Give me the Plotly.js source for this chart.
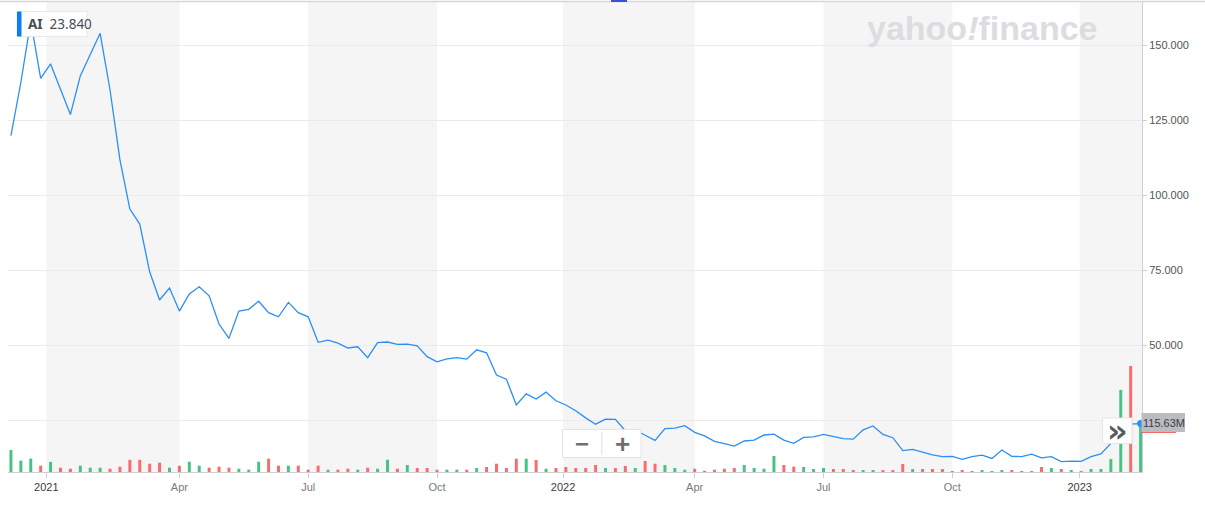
<!DOCTYPE html>
<html>
<head>
<meta charset="utf-8">
<script src="https://cdn.plot.ly/plotly-3.0.1.min.js"></script>
<style>
  html, body { margin: 0; padding: 0; background: #ffffff; }
  #chart { width: 1205px; height: 508px; }
</style>
</head>
<body>
<div id="chart"></div>
<script>
// ---------------- DATA ----------------
const ticker = 'AI';

const weekDates = [
  '2020-12-07','2020-12-14','2020-12-21','2020-12-28',
  '2021-01-04','2021-01-11','2021-01-18','2021-01-25','2021-02-01','2021-02-08','2021-02-15','2021-02-22',
  '2021-03-01','2021-03-08','2021-03-15','2021-03-22','2021-03-29','2021-04-05','2021-04-12','2021-04-19',
  '2021-04-26','2021-05-03','2021-05-10','2021-05-17','2021-05-24','2021-05-31','2021-06-07','2021-06-14',
  '2021-06-21','2021-06-28','2021-07-05','2021-07-12','2021-07-19','2021-07-26','2021-08-02','2021-08-09',
  '2021-08-16','2021-08-23','2021-08-30','2021-09-06','2021-09-13','2021-09-20','2021-09-27','2021-10-04',
  '2021-10-11','2021-10-18','2021-10-25','2021-11-01','2021-11-08','2021-11-15','2021-11-22','2021-11-29',
  '2021-12-06','2021-12-13','2021-12-20','2021-12-27',
  '2022-01-03','2022-01-10','2022-01-17','2022-01-24','2022-01-31','2022-02-07','2022-02-14','2022-02-21',
  '2022-02-28','2022-03-07','2022-03-14','2022-03-21','2022-03-28','2022-04-04','2022-04-11','2022-04-18',
  '2022-04-25','2022-05-02','2022-05-09','2022-05-16','2022-05-23','2022-05-30','2022-06-06','2022-06-13',
  '2022-06-20','2022-06-27','2022-07-04','2022-07-11','2022-07-18','2022-07-25','2022-08-01','2022-08-08',
  '2022-08-15','2022-08-22','2022-08-29','2022-09-05','2022-09-12','2022-09-19','2022-09-26','2022-10-03',
  '2022-10-10','2022-10-17','2022-10-24','2022-10-31','2022-11-07','2022-11-14','2022-11-21','2022-11-28',
  '2022-12-05','2022-12-12','2022-12-19','2022-12-26',
  '2023-01-02','2023-01-09','2023-01-16','2023-01-23','2023-01-30','2023-02-06','2023-02-13'
];

const closePrice = [
  119.8, 137.5, 158.0, 138.9, 143.7, 135.0, 126.8, 139.7, 146.8, 153.9,
  135.0, 111.7, 95.3, 90.3, 74.4, 65.0, 69.0, 61.3, 67.0, 69.4,
  66.4, 57.0, 52.2, 61.3, 61.9, 64.6, 60.8, 59.4, 64.2, 60.8,
  59.4, 50.9, 51.6, 50.6, 49.0, 49.4, 45.8, 50.8, 51.0, 50.2,
  50.3, 49.7, 46.1, 44.4, 45.4, 45.8, 45.3, 48.4, 47.4, 40.0,
  38.6, 30.0, 33.7, 32.0, 34.3, 31.4, 30.0, 28.1, 25.7, 23.6,
  25.3, 25.2, 21.4, 21.7, 19.9, 18.2, 22.1, 22.3, 23.1, 20.9,
  19.7, 17.9, 17.1, 16.3, 18.0, 18.3, 20.0, 20.3, 18.3, 17.2,
  19.2, 19.4, 20.2, 19.4, 18.8, 18.6, 21.7, 23.0, 20.2, 19.1,
  14.8, 15.2, 14.3, 13.4, 12.8, 12.9, 11.9, 12.8, 13.3, 12.2,
  15.0, 12.9, 12.8, 13.6, 12.4, 12.8, 11.1, 11.3, 11.2, 12.8,
  13.7, 17.2, 25.0, 23.6, 23.84
];

// weekly volume, millions of shares
const volumeMillions = [
  54, 28, 33, 15.5, 25, 10.6, 8.1, 15.5, 10.6, 10.6,
  8.1, 13, 30, 30, 20.4, 22.9, 10.6, 15.5, 25.3, 15.5,
  10.6, 13, 10.6, 8.1, 5.7, 25.3, 32.7, 15.5, 15.5, 15.5,
  5.7, 15.5, 5.7, 5.7, 8.1, 5.7, 10.6, 8.1, 30.3, 8.1,
  17.2, 9.8, 9.8, 5.7, 5.7, 5.7, 5.7, 9.8, 12.3, 20.4,
  9.8, 32.7, 32.7, 29.5, 8.1, 9.8, 12.3, 9.8, 9.8, 17.2,
  9.8, 9.8, 14.8, 9.8, 27, 20.4, 17.2, 9.8, 5.7, 8.1,
  3.2, 5.7, 8.1, 9.8, 17.2, 9.8, 8.1, 39.4, 17.2, 13,
  12.3, 7.4, 9.8, 7.4, 7.4, 4.9, 4.9, 4.9, 4.9, 4.9,
  19.7, 7.4, 7.4, 7.4, 7.4, 2.5, 4.9, 2.5, 4.9, 2.5,
  4.9, 4.9, 2.5, 2.5, 12.3, 9.8, 7.4, 4.9, 2.5, 7.4,
  7.4, 32, 202, 261, 115.63
];

const xTickVals = ['2021-01-01','2021-04-05','2021-07-05','2021-10-04','2022-01-01','2022-04-04','2022-07-04','2022-10-03','2023-01-01'];
const xTickLabels = ['2021','Apr','Jul','Oct','2022','Apr','Jul','Oct','2023'];
const yTickVals = [25, 50, 75, 100, 125, 150];
const yTickLabels = ['', '50.000', '75.000', '100.000', '125.000', '150.000'];

// ---------------- STYLE / LAYOUT ----------------
const W = 1205, H = 508;
const PL = 8, PR = 1142, PT = 2, PB = 472;
const fx = px => (px - PL) / (PR - PL);
const fy = py => (PB - py) / (PB - PT);

const UP = '#46c383', DOWN = '#fb6b6d', LINE = '#2b8ff4';
const barColors = closePrice.map((p, i) => (i === 0 || p >= closePrice[i - 1]) ? UP : DOWN);

const DAY = 86400000;
const t0 = new Date(weekDates[0] + 'T00:00:00Z').getTime();
const t1 = new Date(weekDates[weekDates.length - 1] + 'T00:00:00Z').getTime();
const iso = t => new Date(t).toISOString().slice(0, 19).replace('T', ' ');
const xRange = [iso(t0 - 2.08 * DAY), iso(t1 + 1 * DAY)];

const isYear = s => /^\d{4}$/.test(s);
const xTickText = xTickLabels.map(s => isYear(s) ? '<span style="color:#3a3a3a">' + s + '</span>' : s);

const lastIdx = closePrice.length - 1;

const traces = [
  {
    type: 'bar', x: weekDates, y: volumeMillions, yaxis: 'y',
    marker: { color: barColors, line: { width: 0 } },
    hoverinfo: 'skip', showlegend: false
  },
  {
    type: 'scatter', mode: 'lines', x: weekDates, y: closePrice, yaxis: 'y2',
    line: { color: LINE, width: 1.3 },
    hoverinfo: 'skip', showlegend: false
  },
  {
    type: 'scatter', mode: 'markers', x: [weekDates[lastIdx]], y: [closePrice[lastIdx]], yaxis: 'y2',
    marker: { color: LINE, size: 7 },
    hoverinfo: 'skip', showlegend: false
  }
];

// alternating quarter shading
const shapes = [];
for (let k = 0; k < xTickVals.length; k += 2) {
  shapes.push({
    type: 'rect', xref: 'x', yref: 'paper', layer: 'below',
    x0: xTickVals[k], x1: (k + 1 < xTickVals.length) ? xTickVals[k + 1] : xRange[1],
    y0: 0, y1: 1, fillcolor: '#f5f5f5', line: { width: 0 }
  });
}
// top border line + small blue tab
shapes.push({ type: 'line', xref: 'paper', yref: 'paper', x0: fx(0), x1: fx(1205), y0: fy(1.5), y1: fy(1.5), line: { color: '#d6d6d6', width: 1.5 }, layer: 'above' });
shapes.push({ type: 'rect', xref: 'paper', yref: 'paper', x0: fx(611), x1: fx(627), y0: fy(2), y1: fy(0), fillcolor: '#3b4fd8', line: { width: 0 }, layer: 'above' });
// legend box
shapes.push({ type: 'rect', xref: 'paper', yref: 'paper', x0: fx(17), x1: fx(87), y0: fy(36.5), y1: fy(11.5), fillcolor: '#ffffff', line: { color: '#e9e9e9', width: 1 }, layer: 'above' });
shapes.push({ type: 'rect', xref: 'paper', yref: 'paper', x0: fx(17), x1: fx(21.5), y0: fy(36.5), y1: fy(11.5), fillcolor: '#0a7ff5', line: { width: 0 }, layer: 'above' });
// zoom buttons
shapes.push({ type: 'rect', xref: 'paper', yref: 'paper', x0: fx(562.5), x1: fx(641), y0: fy(457.5), y1: fy(429.5), fillcolor: '#ffffff', line: { color: '#e4e4e4', width: 1 }, layer: 'above' });
shapes.push({ type: 'line', xref: 'paper', yref: 'paper', x0: fx(601.8), x1: fx(601.8), y0: fy(455), y1: fy(432), line: { color: '#e0e0e0', width: 1 }, layer: 'above' });
// chevron button
shapes.push({ type: 'rect', xref: 'paper', yref: 'paper', x0: fx(1102.5), x1: fx(1132), y0: fy(443.5), y1: fy(418), fillcolor: '#ffffff', line: { color: '#e6e6e6', width: 1 }, layer: 'above' });
// volume label
shapes.push({ type: 'rect', xref: 'paper', yref: 'paper', x0: fx(1141.5), x1: fx(1185), y0: fy(432), y1: fy(413), fillcolor: '#b9bcc3', line: { width: 0 }, layer: 'above' });
shapes.push({ type: 'line', xref: 'paper', yref: 'paper', x0: fx(1141.5), x1: fx(1176), y0: fy(432.5), y1: fy(432.5), line: { color: '#f46a6a', width: 1.2 }, layer: 'above' });

const annotations = [
  {
    xref: 'paper', yref: 'paper', x: fx(26), y: fy(24.5), xanchor: 'left', yanchor: 'middle',
    text: '<b>' + ticker + '</b>  ' + closePrice[lastIdx].toFixed(3), showarrow: false,
    font: { family: 'Noto Sans, Open Sans, sans-serif', size: 13.5, color: '#464e56' }
  },
  {
    xref: 'paper', yref: 'paper', x: fx(982), y: fy(28), xanchor: 'center', yanchor: 'middle',
    text: '<b>yahoo<i>!</i>finance</b>', showarrow: false,
    font: { family: 'Liberation Sans, Arial, sans-serif', size: 34, color: '#dcdde1' }
  },
  {
    xref: 'paper', yref: 'paper', x: fx(582), y: fy(443.5), xanchor: 'center', yanchor: 'middle',
    text: '<b>−</b>', showarrow: false,
    font: { family: 'Liberation Sans, Arial, sans-serif', size: 24, color: '#6f6f6f' }
  },
  {
    xref: 'paper', yref: 'paper', x: fx(622), y: fy(443.5), xanchor: 'center', yanchor: 'middle',
    text: '<b>+</b>', showarrow: false,
    font: { family: 'Liberation Sans, Arial, sans-serif', size: 26, color: '#6f6f6f' }
  },
  {
    xref: 'paper', yref: 'paper', x: fx(1117.5), y: fy(431), xanchor: 'center', yanchor: 'middle',
    text: '<b>»</b>', showarrow: false,
    font: { family: 'DejaVu Sans, sans-serif', size: 32, color: '#5a5a5a' }
  },
  {
    xref: 'paper', yref: 'paper', x: fx(1163.5), y: fy(422.5), xanchor: 'center', yanchor: 'middle',
    text: volumeMillions[lastIdx].toFixed(2) + 'M', showarrow: false,
    font: { family: 'Liberation Sans, Arial, sans-serif', size: 11, color: '#3d3d3d' }
  }
];

const layout = {
  width: W, height: H,
  margin: { l: PL, r: W - PR, t: PT, b: H - PB, pad: 0 },
  paper_bgcolor: '#ffffff', plot_bgcolor: '#ffffff',
  showlegend: false, bargap: 0.7,
  xaxis: {
    type: 'date', range: xRange, fixedrange: true,
    tickmode: 'array', tickvals: xTickVals, ticktext: xTickText,
    showgrid: false, zeroline: false,
    showline: true, linecolor: '#cfcfcf', linewidth: 1,
    ticks: 'outside', ticklen: 5, tickcolor: '#cfcfcf', tickwidth: 1,
    tickfont: { family: 'Liberation Sans, Arial, sans-serif', size: 11, color: '#7a7a7a' }
  },
  yaxis: {
    range: [0, 1156], visible: false, showgrid: false, zeroline: false, fixedrange: true
  },
  yaxis2: {
    overlaying: 'y', side: 'right', range: [7.667, 164.333], fixedrange: true,
    tickmode: 'array', tickvals: yTickVals, ticktext: yTickLabels,
    showgrid: true, gridcolor: '#ebebeb', gridwidth: 1, zeroline: false,
    showline: true, linecolor: '#cfcfcf', linewidth: 1,
    ticks: 'outside', ticklen: 4, tickcolor: '#cfcfcf',
    tickfont: { family: 'Liberation Sans, Arial, sans-serif', size: 11, color: '#555555' }
  },
  shapes: shapes,
  annotations: annotations
};

Plotly.newPlot('chart', traces, layout, { staticPlot: true, displayModeBar: false });
</script>
</body>
</html>
